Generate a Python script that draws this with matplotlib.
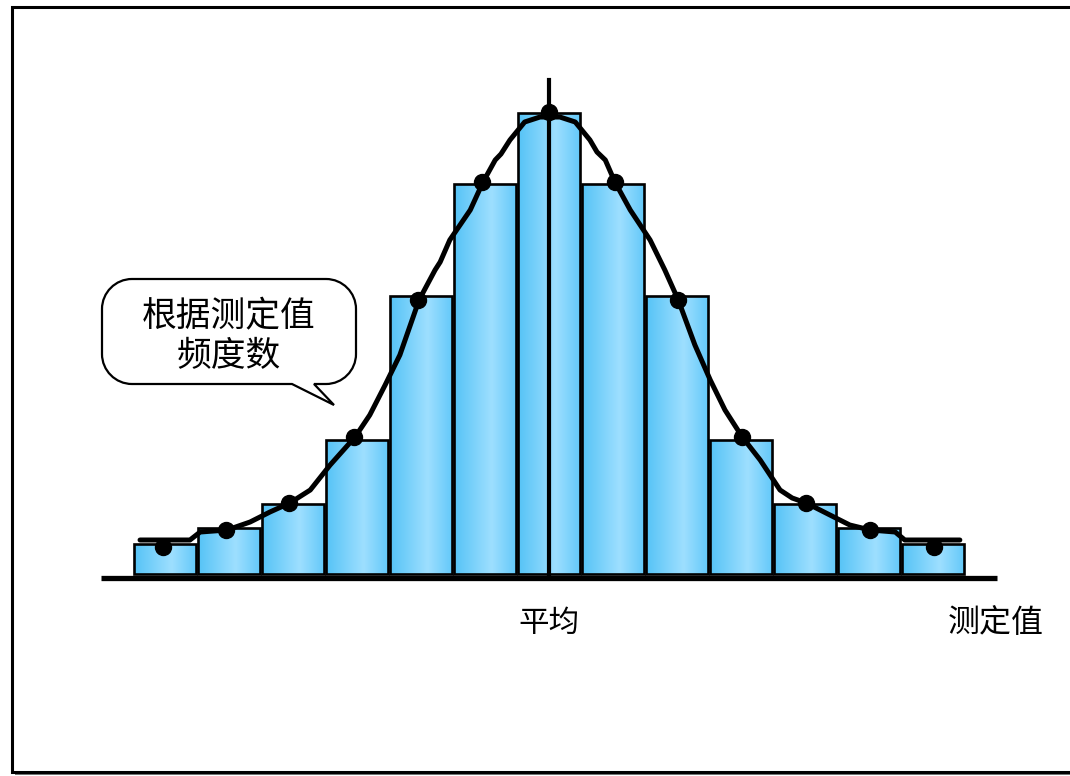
import matplotlib
matplotlib.use("Agg")
import matplotlib.pyplot as plt
import numpy as np
from matplotlib.colors import LinearSegmentedColormap
from matplotlib.path import Path
from matplotlib.patches import PathPatch, Rectangle
from matplotlib.transforms import Affine2D

plt.rcParams["font.family"] = ["Noto Sans CJK SC", "DejaVu Sans"]

# histogram bins (class index) and frequencies
bins = [1, 2, 3, 4, 5, 6, 7, 8, 9, 10, 11, 12, 13]
freq = [3.0, 4.6, 7.0, 13.4, 27.8, 39.0, 46.1, 39.0, 27.8, 13.4, 7.0, 4.6, 3.0]

# frequency points marked on the polygon
point_x = [0.97, 1.95, 2.94, 3.95, 4.95, 5.95, 7.0, 8.03, 9.02, 10.02, 11.02, 12.02, 13.02]
point_y = [2.7, 4.4, 7.1, 13.7, 27.4, 39.2, 46.2, 39.2, 27.4, 13.7, 7.1, 4.4, 2.7]

# hand-traced frequency curve
curve_x = [0.61, 1.39, 1.55, 1.97, 2.33, 2.64, 2.95, 3.27, 3.58, 3.97, 4.20,
           4.44, 4.67, 4.97, 5.22, 5.30, 5.45, 5.77, 5.97, 6.16, 6.25, 6.39,
           6.62, 6.86, 7.17, 7.41, 7.64, 7.75, 7.88, 8.03, 8.27, 8.58, 8.81,
           9.02, 9.28, 9.52, 9.75, 10.02, 10.30, 10.61, 10.80, 11.02, 11.39,
           11.70, 12.02, 12.41, 12.56, 13.42]
curve_y = [3.4, 3.4, 4.2, 4.4, 5.2, 6.2, 7.1, 8.4, 10.9, 13.7, 15.9, 18.9,
           21.9, 27.4, 30.4, 31.2, 33.4, 36.4, 39.2, 41.4, 42.0, 43.4, 45.2,
           45.7, 45.7, 45.2, 43.4, 42.2, 41.4, 39.2, 36.4, 33.4, 30.4, 27.4,
           22.9, 19.4, 16.4, 13.7, 11.4, 8.4, 7.6, 7.1, 5.9, 4.9, 4.4, 4.2,
           3.4, 3.4]

mean_x = 7
callout_lines = ["根据测定值", "频度数"]
mean_label = "平均"
axis_label = "测定值"

W, H, DPI = 1070, 776, 100
fig = plt.figure(figsize=(W / DPI, H / DPI), dpi=DPI)
ax = fig.add_axes([0, 0, 1, 1])
ax.set_axis_off()
ax.set_zorder(1)

# pixel coordinates (origin top-left) for the frame and speech bubble
px = Affine2D().scale(1 / DPI, -1 / DPI).translate(0, H / DPI) + fig.dpi_scale_trans

cmap = LinearSegmentedColormap.from_list(
    "barfill", [(0.0, "#55c3f6"), (0.6, "#9edfff"), (1.0, "#62c8f9")])
grad = np.linspace(0, 1, 256).reshape(1, -1)
width = 0.97
for x, h in zip(bins, freq):
    ax.imshow(grad, extent=[x - width / 2, x + width / 2, 0, h],
              aspect="auto", cmap=cmap, zorder=2, interpolation="bicubic")
ax.bar(bins, freq, width=width, fill=False, edgecolor="black",
       linewidth=1.9, zorder=2.5)

# base line and mean line
ax.plot([0, 14], [-0.4, -0.4], color="black", lw=3.8,
        solid_capstyle="butt", zorder=3)
ax.plot([mean_x, mean_x], [0, 49.4], color="black", lw=3, zorder=3)

ax.plot(curve_x, curve_y, color="black", lw=3.6, solid_joinstyle="round",
        solid_capstyle="round", zorder=4)
ax.plot(point_x, point_y, "o", color="black", markersize=11.5, zorder=5)

ax.text(mean_x, -4.9, mean_label, ha="center", va="center", fontsize=22)
ax.text(13.98, -4.9, axis_label, ha="center", va="center", fontsize=23)

ax.set_xlim(-1.578, 15.141)
ax.set_ylim(-20.2, 57.4)

# outer frame with shadow
fig.patches.append(Rectangle((15, 10), 1070, 765, transform=px,
                             facecolor="#777777", edgecolor="none", zorder=-2))
fig.patches.append(Rectangle((12, 7), 1070, 765, transform=px,
                             facecolor="white", edgecolor="black",
                             linewidth=2.2, zorder=-1))

# speech bubble
x0, x1, y0, y1, r = 102, 356, 279, 384, 30
k = 0.55 * r
verts = [
    (x0 + r, y0), (x1 - r, y0),
    (x1 - r + k, y0), (x1, y0 + r - k), (x1, y0 + r),
    (x1, y1 - r),
    (x1, y1 - r + k), (x1 - r + k, y1), (x1 - r, y1),
    (314, y1), (334, 405), (292, y1),
    (x0 + r, y1),
    (x0 + r - k, y1), (x0, y1 - r + k), (x0, y1 - r),
    (x0, y0 + r),
    (x0, y0 + r - k), (x0 + r - k, y0), (x0 + r, y0),
    (x0 + r, y0),
]
codes = ([Path.MOVETO, Path.LINETO] + [Path.CURVE4] * 3 + [Path.LINETO]
         + [Path.CURVE4] * 3 + [Path.LINETO] * 4 + [Path.CURVE4] * 3
         + [Path.LINETO] + [Path.CURVE4] * 3 + [Path.CLOSEPOLY])
bubble = PathPatch(Path(verts, codes), transform=px, facecolor="white",
                   edgecolor="black", linewidth=1.6, zorder=6)
fig.patches.append(bubble)
fig.text(229 / W, 1 - 317 / H, callout_lines[0], ha="center", va="center",
         fontsize=25, zorder=7)
fig.text(229 / W, 1 - 357 / H, callout_lines[1], ha="center", va="center",
         fontsize=25, zorder=7)

fig.savefig("out.png", dpi=DPI)
